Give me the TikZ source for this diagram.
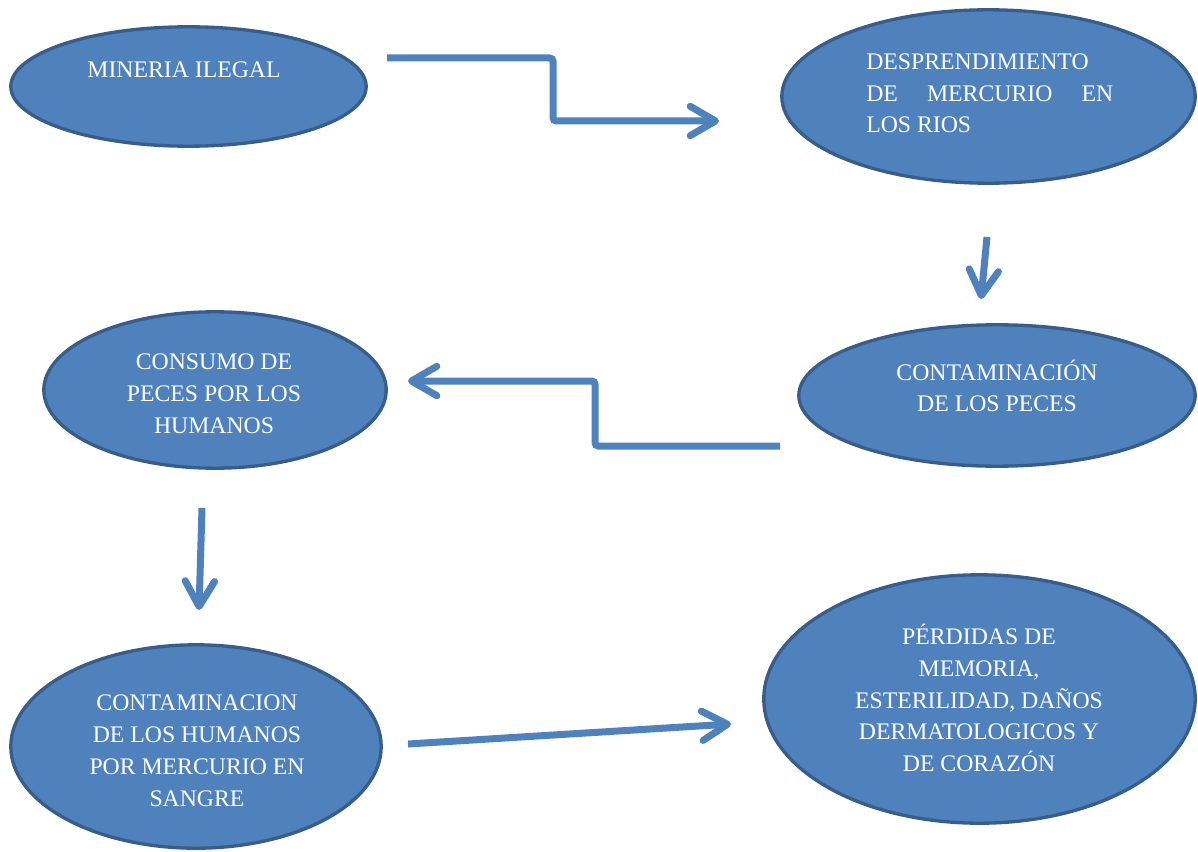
\documentclass[tikz,border=0pt]{standalone}
\usepackage{fontspec}
\setmainfont{Liberation Serif}
\usetikzlibrary{shapes.geometric,arrows.meta}
\definecolor{bfill}{HTML}{4F81BD}
\definecolor{bline}{HTML}{385D8A}
\definecolor{aline}{HTML}{4F81BD}
\tikzset{
  bubble/.style={ellipse, draw=bline, fill=bfill, line width=2.5pt, inner sep=0pt, outer sep=0pt},
  txt/.style={text=white, inner sep=0pt, font=\fontsize{17.8}{23.8}\selectfont},
  flow/.style={draw=aline, line width=5.25pt, rounded corners=2.5pt,
    -{Straight Barb[length=19pt, width=22pt, line cap=round, line join=round]}}
}
\begin{document}
\begin{tikzpicture}[x=0.75pt, y=-0.75pt]
\useasboundingbox (0,0) rectangle (1198,852);
% ellipses
\node[bubble, minimum width=355.4*0.75pt, minimum height=119.4*0.75pt] (e1) at (188.5,86.5) {};
\node[bubble, minimum width=413.4*0.75pt, minimum height=173.4*0.75pt] (e2) at (988.5,96.5) {};
\node[bubble, minimum width=396.4*0.75pt, minimum height=141.4*0.75pt] (e3) at (997,395.5) {};
\node[bubble, minimum width=342.4*0.75pt, minimum height=156.4*0.75pt] (e4) at (215,390) {};
\node[bubble, minimum width=370.4*0.75pt, minimum height=203.4*0.75pt] (e5) at (196,746.5) {};
\node[bubble, minimum width=431.4*0.75pt, minimum height=248.4*0.75pt] (e6) at (979.5,699) {};
% texts
\node[txt, anchor=base] (t1) at (184,78) {MINERIA ILEGAL};
\node[txt, anchor=west, align=left] (t2) at (866,93.4) {DESPRENDIMIENTO\\\makebox[185.25pt][s]{DE MERCURIO EN}\\LOS RIOS};
\node[txt, align=center] (t3) at (997,386) {CONTAMINACIÓN\\DE LOS PECES};
\node[txt, align=center] (t4) at (214,393.9) {CONSUMO DE\\PECES POR LOS\\HUMANOS};
\node[txt, align=center] (t5) at (197,750.7) {CONTAMINACION\\DE LOS HUMANOS\\POR MERCURIO EN\\SANGRE};
\node[txt, align=center] (t6) at (979,698) {PÉRDIDAS DE\\MEMORIA,\\ESTERILIDAD, DAÑOS\\DERMATOLOGICOS Y\\DE CORAZÓN};
% connector end points
\coordinate (a1s) at (387,58);
\coordinate (a1e) at (719,121);
\coordinate (a2s) at (987,237);
\coordinate (a2e) at (981,299);
\coordinate (a3s) at (780,446);
\coordinate (a3e) at (408,381);
\coordinate (a4s) at (202,508);
\coordinate (a4e) at (199,610);
\coordinate (a5s) at (408,744);
\coordinate (a5e) at (731,724);
% connectors
\draw[flow] (a1s) -- (553,58) -- (553,121) -- (a1e);
\draw[flow] (a2s) -- (a2e);
\draw[flow] (a3s) -- (595,446) -- (595,381) -- (a3e);
\draw[flow] (a4s) -- (a4e);
\draw[flow] (a5s) -- (a5e);
\end{tikzpicture}
\end{document}
